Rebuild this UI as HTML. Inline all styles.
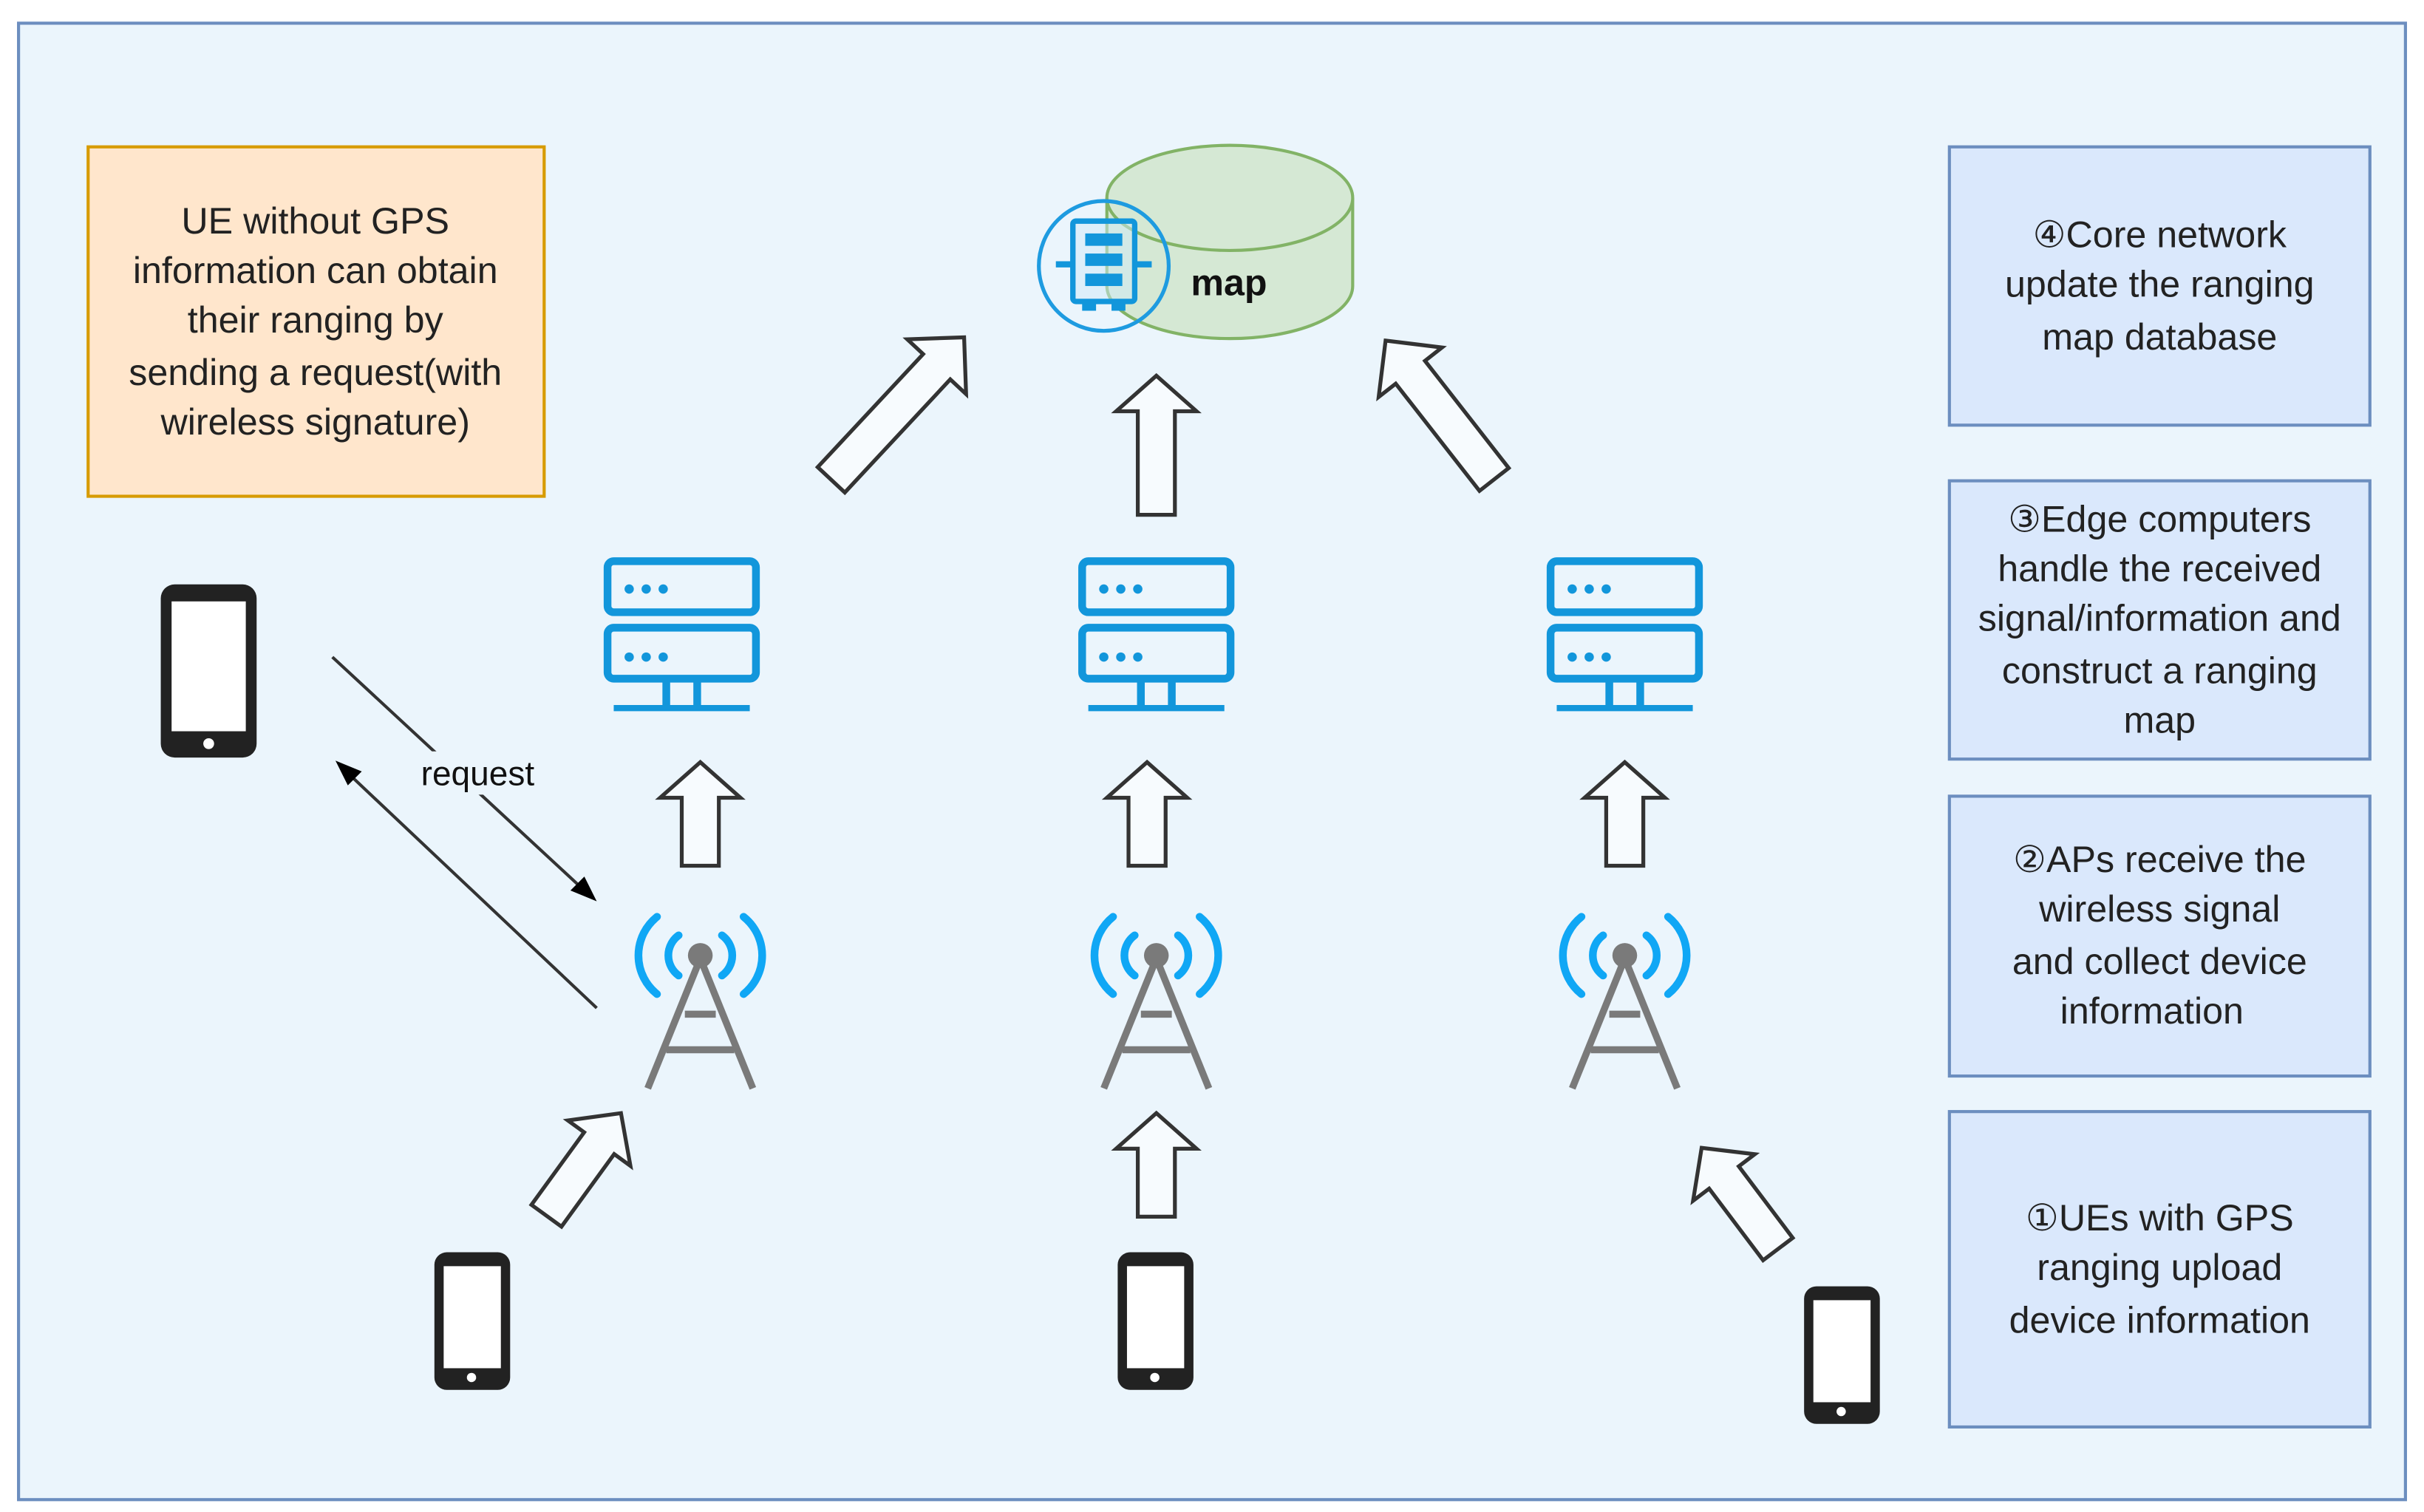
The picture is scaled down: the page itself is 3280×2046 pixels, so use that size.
<!DOCTYPE html>
<html><head><meta charset="utf-8"><style>html,body{margin:0;padding:0;background:#fff}svg{display:block}</style></head><body>
<svg width="3280" height="2046" viewBox="0 0 1568 978" preserveAspectRatio="none" xmlns="http://www.w3.org/2000/svg" font-family="Liberation Sans, Arial, sans-serif">
<defs>
<g id="srv" fill="none" stroke="#1296db" stroke-width="5">
 <rect x="-48" y="2" width="96" height="33" rx="4"/>
 <rect x="-48" y="45" width="96" height="33" rx="4"/>
 <line x1="-10" y1="78" x2="-10" y2="96"/><line x1="10" y1="78" x2="10" y2="96"/>
 <line x1="-44" y1="97" x2="44" y2="97" stroke-width="4"/>
 <g fill="#1296db" stroke="none"><circle cx="-34" cy="20" r="3"/><circle cx="-23" cy="20" r="3"/><circle cx="-12" cy="20" r="3"/><circle cx="-34" cy="64" r="3"/><circle cx="-23" cy="64" r="3"/><circle cx="-12" cy="64" r="3"/></g>
</g>
<g id="tow">
 <g fill="none" stroke="#10a7f5" stroke-width="5" stroke-linecap="round">
  <path d="M-14,7 A16,16 0 0 1 -14,-19"/><path d="M14,7 A16,16 0 0 0 14,-19"/>
  <path d="M-28,19 A32,32 0 0 1 -28,-31"/><path d="M28,19 A32,32 0 0 0 28,-31"/>
 </g>
 <g stroke="#7a7a7a" stroke-width="4.5" fill="none">
  <line x1="0" y1="-4" x2="-34" y2="80"/><line x1="0" y1="-4" x2="34" y2="80"/>
  <line x1="-10" y1="32" x2="10" y2="32"/><line x1="-22" y1="55" x2="22" y2="55"/>
 </g>
 <circle cx="0" cy="-6" r="8" fill="#7a7a7a"/>
</g>
</defs>
<rect x="12" y="15" width="1544" height="955" fill="#ebf5fc" stroke="#6c8ebf" stroke-width="2"/>
<rect x="57" y="95" width="295" height="226" fill="#ffe6cc" stroke="#d79b00" stroke-width="2"/>
<g font-size="24" fill="#222" text-anchor="middle">
<text x="204" y="151">UE without GPS</text><text x="204" y="183">information can obtain</text><text x="204" y="215">their ranging by</text><text x="204" y="249">sending a request(with</text><text x="204" y="281">wireless signature)</text>
</g>
<g fill="#dae8fc" stroke="#6c8ebf" stroke-width="2">
<rect x="1261" y="95" width="272" height="180"/><rect x="1261" y="311" width="272" height="180"/><rect x="1261" y="515" width="272" height="181"/><rect x="1261" y="719" width="272" height="204"/>
</g>
<g font-size="24" fill="#222" text-anchor="middle">
<text x="1397" y="160">④Core network</text><text x="1397" y="192">update the ranging</text><text x="1397" y="226">map database</text>
<text x="1397" y="344">③Edge computers</text><text x="1397" y="376">handle the received</text><text x="1397" y="408">signal/information and</text><text x="1397" y="442">construct a ranging</text><text x="1397" y="474">map</text>
<text x="1397" y="564">②APs receive the</text><text x="1397" y="596">wireless signal</text><text x="1397" y="630">and collect device</text><text x="1392" y="662">information</text>
<text x="1397" y="796">①UEs with GPS</text><text x="1397" y="828">ranging upload</text><text x="1397" y="862">device information</text>
</g>
<!-- cylinder -->
<path d="M716,128 L716,185 A79.5,34 0 0 0 875,185 L875,128" fill="#d5e8d4" stroke="#82b366" stroke-width="2"/>
<ellipse cx="795.5" cy="128" rx="79.5" ry="34" fill="#d5e8d4" stroke="#82b366" stroke-width="2"/>
<text x="795" y="191" font-size="24" font-weight="bold" text-anchor="middle" fill="#111">map</text>
<g>
<circle cx="714" cy="172" r="42" fill="none" stroke="#1e9be0" stroke-width="2.5"/>
<rect x="701" y="151" width="82" height="0" fill="none"/>
<rect x="694" y="143" width="40" height="52" rx="2" fill="#cfe9f8" fill-opacity="0.5" stroke="#1296db" stroke-width="3.5"/>
<rect x="702" y="151" width="24" height="8" fill="#1296db"/><rect x="702" y="164" width="24" height="8" fill="#1296db"/><rect x="702" y="177" width="24" height="8" fill="#1296db"/>
<line x1="683" y1="171" x2="694" y2="171" stroke="#1296db" stroke-width="4"/><line x1="734" y1="171" x2="745" y2="171" stroke="#1296db" stroke-width="4"/>
<rect x="700" y="195" width="9" height="6" fill="#1296db"/><rect x="719" y="195" width="9" height="6" fill="#1296db"/>
</g>
<!-- edge servers -->
<use href="#srv" x="441" y="361"/><use href="#srv" x="748" y="361"/><use href="#srv" x="1051" y="361"/>
<!-- towers -->
<use href="#tow" x="453" y="624"/><use href="#tow" x="748" y="624"/><use href="#tow" x="1051" y="624"/>
<!-- hollow arrows -->
<g fill="#fff" fill-opacity="0.6" stroke="#333" stroke-width="2.5" stroke-linejoin="miter">
<g transform="translate(453,527)"><path d="M0,-34 L26,-11 L12,-11 L12,33 L-12,33 L-12,-11 L-26,-11 Z"/></g>
<g transform="translate(742,527)"><path d="M0,-34 L26,-11 L12,-11 L12,33 L-12,33 L-12,-11 L-26,-11 Z"/></g>
<g transform="translate(1051,527)"><path d="M0,-34 L26,-11 L12,-11 L12,33 L-12,33 L-12,-11 L-26,-11 Z"/></g>
<g transform="translate(748,288)"><path d="M0,-45 L26,-22 L12,-22 L12,45 L-12,45 L-12,-22 L-26,-22 Z"/></g>
<g transform="translate(748,754)"><path d="M0,-34 L26,-11 L12,-11 L12,33 L-12,33 L-12,-11 L-26,-11 Z"/></g>
<g transform="translate(580,265) rotate(43)"><path d="M0,-64 L26,-38 L12,-38 L12,62 L-12,62 L-12,-38 L-26,-38 Z"/></g>
<g transform="translate(932,266) rotate(-38)"><path d="M0,-58 L26,-32 L12,-32 L12,56 L-12,56 L-12,-32 L-26,-32 Z"/></g>
<g transform="translate(377,754) rotate(36)"><path d="M0,-42 L25,-18 L12,-18 L12,40 L-12,40 L-12,-18 L-25,-18 Z"/></g>
<g transform="translate(1126,776) rotate(-37)"><path d="M0,-42 L25,-18 L12,-18 L12,40 L-12,40 L-12,-18 L-25,-18 Z"/></g>
</g>
<!-- phones -->
<g fill="#222">
<rect x="104" y="378" width="62" height="112" rx="9"/><rect x="111" y="389" width="48" height="84" fill="#fff"/><circle cx="135" cy="481" r="3.5" fill="#fff"/>
<rect x="281" y="810" width="49" height="89" rx="8"/><rect x="287" y="819" width="37" height="66" fill="#fff"/><circle cx="305" cy="891" r="3" fill="#fff"/>
<rect x="723" y="810" width="49" height="89" rx="8"/><rect x="729" y="819" width="37" height="66" fill="#fff"/><circle cx="747" cy="891" r="3" fill="#fff"/>
<rect x="1167" y="832" width="49" height="89" rx="8"/><rect x="1173" y="841" width="37" height="66" fill="#fff"/><circle cx="1191" cy="913" r="3" fill="#fff"/>
</g>
<!-- request lines -->
<g stroke="#333" stroke-width="2">
<line x1="215" y1="425" x2="378" y2="576"/><line x1="386" y1="652" x2="225" y2="500"/>
</g>
<path d="M386,583 L369,576 L378,567 Z" fill="#000"/>
<path d="M217,492 L234,499 L225,508 Z" fill="#000"/>
<rect x="264" y="486" width="90" height="28" fill="#ebf5fc"/>
<text x="309" y="508" font-size="22" text-anchor="middle" fill="#111">request</text>
</svg>
</body></html>
